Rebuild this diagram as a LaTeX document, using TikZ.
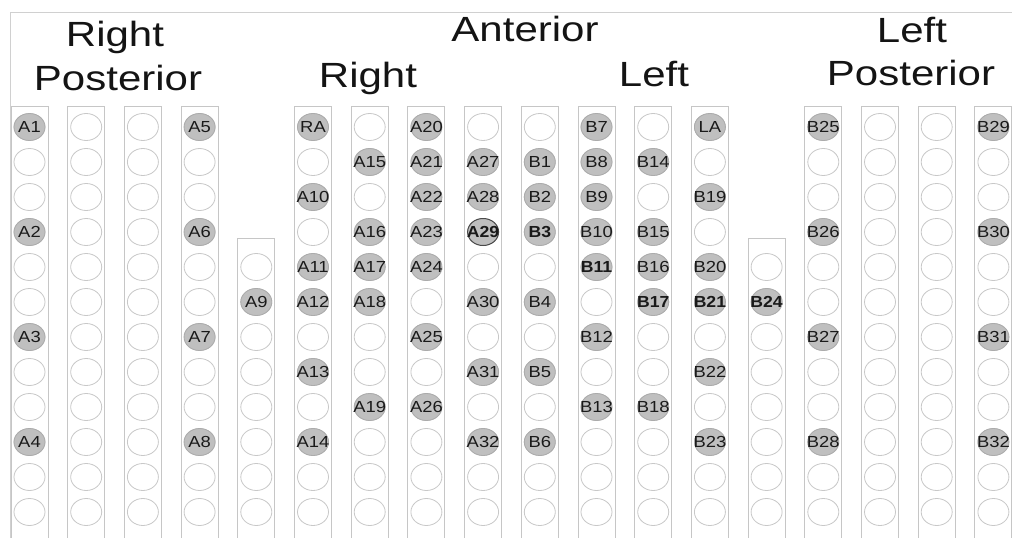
\documentclass[tikz,border=0pt]{standalone}
\usepackage{fontspec}
\setmainfont{Liberation Sans}
\usepackage{graphicx}
\usetikzlibrary{shapes.geometric}
\definecolor{boxgray}{HTML}{C6C6C6}
\definecolor{framegray}{HTML}{D0D0D0}
\definecolor{cellgray}{HTML}{C8C8C8}
\definecolor{fillgray}{HTML}{BFBFBF}
\definecolor{filledge}{HTML}{ABABAB}
\definecolor{darkedge}{HTML}{4A4A4A}
\definecolor{txt}{HTML}{1A1A1A}
\begin{document}
\begin{tikzpicture}[x=1pt,y=-1pt,
  colbox/.style={draw=boxgray, line width=0.9pt, minimum width=37pt, inner sep=0pt, anchor=north},
  cell/.style={ellipse, draw=cellgray, line width=0.8pt, minimum width=31pt, minimum height=27pt, inner sep=0pt, fill=white},
  hit/.style={cell, fill=fillgray, draw=filledge, text=txt, font=\fontsize{16}{17}\selectfont},
  hitb/.style={hit, font=\fontsize{16}{17}\selectfont\bfseries},
  title/.style={font=\fontsize{35}{40}\selectfont, text=black!92, anchor=base, inner sep=0pt}]
\useasboundingbox (0,0) rectangle (1012,538);
\clip (0,0) rectangle (1012,538);
\fill[white] (0,0) rectangle (1012,538);
\coordinate (tl) at (10,12);
\coordinate (tr) at (1012,12);
\coordinate (bl) at (10,538);
\draw[framegray, line width=0.9pt] (bl) -- (tl) -- (tr);
% columns
\foreach \c in {1,2,3,4,6,7,8,9,10,11,12,13,15,16,17,18}{
  \node[colbox, minimum height=450pt] (col\c) at ({29.5+56.7*(\c-1)},106) {};
  \foreach \r in {1,...,12}
    \node[cell] (e\c-\r) at ({29.5+56.7*(\c-1)},{127+35*(\r-1)}) {};
}
\foreach \c in {5,14}{
  \node[colbox, minimum height=320pt] (col\c) at ({29.5+56.7*(\c-1)},238) {};
  \foreach \r in {5,...,12}
    \node[cell] (e\c-\r) at ({29.5+56.7*(\c-1)},{127+35*(\r-1)}) {};
}
% filled cells
\foreach \c/\r/\t in {1/1/A1,1/4/A2,1/7/A3,1/10/A4,
  4/1/A5,4/4/A6,4/7/A7,4/10/A8,
  5/6/A9,
  6/1/RA,6/3/A10,6/5/A11,6/6/A12,6/8/A13,6/10/A14,
  7/2/A15,7/4/A16,7/5/A17,7/6/A18,7/9/A19,
  8/1/A20,8/2/A21,8/3/A22,8/4/A23,8/5/A24,8/7/A25,8/9/A26,
  9/2/A27,9/3/A28,9/6/A30,9/8/A31,9/10/A32,
  10/2/B1,10/3/B2,10/6/B4,10/8/B5,10/10/B6,
  11/1/B7,11/2/B8,11/3/B9,11/4/B10,11/7/B12,11/9/B13,
  12/2/B14,12/4/B15,12/5/B16,12/9/B18,
  13/1/LA,13/3/B19,13/5/B20,13/8/B22,13/10/B23,
  15/1/B25,15/4/B26,15/7/B27,15/10/B28,
  18/1/B29,18/4/B30,18/7/B31,18/10/B32}
  \node[hit] (\t) at ({29.5+56.7*(\c-1)},{127+35*(\r-1)}) {\makebox[0pt]{\scalebox{1.15}[1]{\t}}};
\foreach \c/\r/\t in {10/4/B3,11/5/B11,12/6/B17,13/6/B21,14/6/B24}
  \node[hitb] (\t) at ({29.5+56.7*(\c-1)},{127+35*(\r-1)}) {\makebox[0pt]{\scalebox{1.1}[1]{\t}}};
\node[hitb, draw=darkedge, line width=1pt] (A29) at ({29.5+56.7*8},{127+35*3}) {\makebox[0pt]{\scalebox{1.1}[1]{A29}}};
% titles
\node[title] (rp1) at (115,46) {\scalebox{1.2}[1]{Right}};
\node[title] (rp2) at (118,90) {\scalebox{1.2}[1]{Posterior}};
\node[title] (ant) at (525,41) {\scalebox{1.2}[1]{Anterior}};
\node[title] (rt) at (368,87) {\scalebox{1.2}[1]{Right}};
\node[title] (lt) at (654,86) {\scalebox{1.2}[1]{Left}};
\node[title] (lp1) at (912,42) {\scalebox{1.2}[1]{Left}};
\node[title] (lp2) at (911,85) {\scalebox{1.2}[1]{Posterior}};
\end{tikzpicture}
\end{document}
